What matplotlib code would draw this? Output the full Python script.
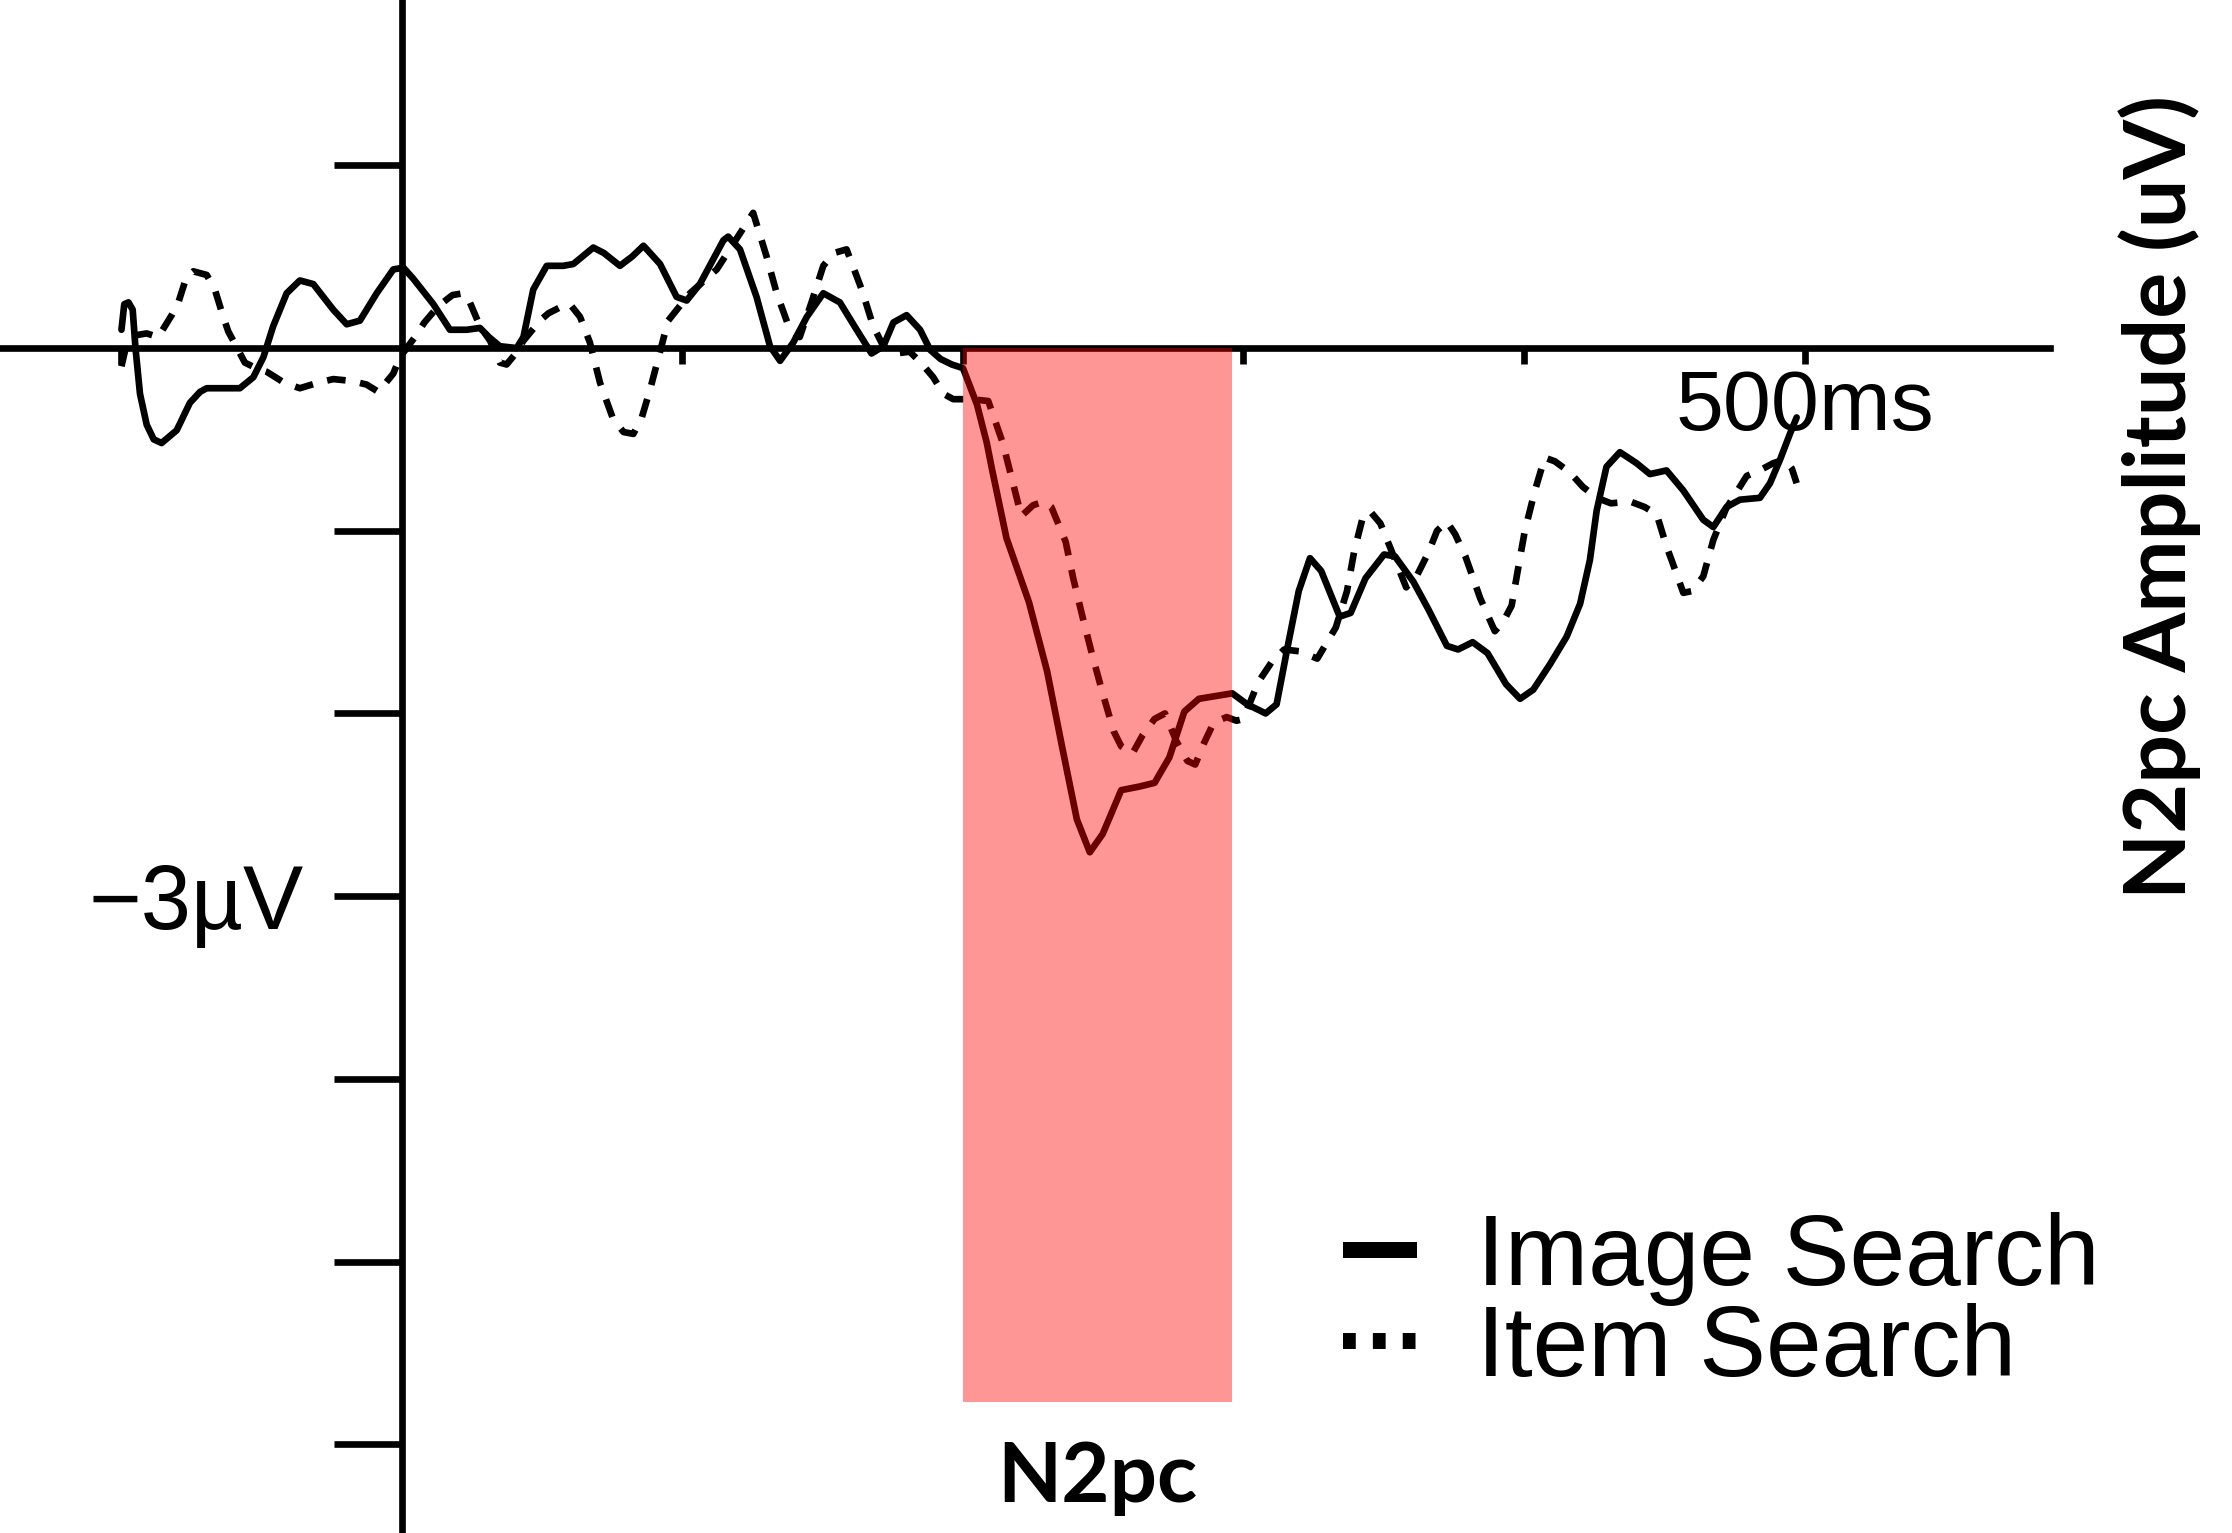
"""N2pc waveform: image search vs item search."""
import matplotlib
matplotlib.use('Agg')
import matplotlib.pyplot as plt
import numpy as np
from matplotlib.lines import Line2D

# solid trace (Image Search): time in ms, amplitude in uV
IMAGE_MS = [-100.0, -99.0, -97.5, -96.0, -95.0, -93.4, -91.0, -88.5, -85.7, -80.3, -75.6, -72.0, -69.6,
            -64.9, -57.8, -53.0, -49.4, -45.9, -41.1, -36.4, -31.6, -24.5, -19.7, -15.0, -9.0, -3.1,
            0.5, 4.0, 11.2, 17.1, 23.1, 27.8, 31.0, 34.9, 40.9, 43.3, 46.8, 51.6, 57.5, 61.1, 68.2,
            72.0, 77.7, 82.0, 86.1, 92.0, 97.9, 101.5, 106.2, 114.6, 116.3, 120.5, 126.4, 131.2,
            134.8, 139.5, 144.3, 150.2, 156.1, 162.1, 167.4, 171.6, 175.2, 179.9, 184.7, 188.3,
            192.0, 196.0, 200.0, 202.0, 205.0, 208.5, 210.3, 215.5, 223.5, 230.0, 235.3, 240.6,
            245.2, 249.8, 256.4, 263.0, 268.3, 273.6, 278.9, 284.1, 296.0, 301.3, 307.9, 311.8,
            315.8, 319.7, 323.7, 327.7, 334.3, 338.2, 343.5, 350.1, 354.0, 360.6, 365.9, 372.5,
            376.5, 381.7, 387.0, 393.6, 398.6, 403.3, 409.3, 415.2, 420.0, 423.5, 425.9, 429.4,
            434.2, 440.1, 444.9, 450.8, 456.8, 463.9, 467.5, 472.2, 477.0, 484.1, 487.7, 491.3,
            494.8, 497.2]
IMAGE_UV = [0.10, 0.24, 0.25, 0.21, 0.00, -0.25, -0.42, -0.50, -0.52, -0.45, -0.30, -0.24, -0.22,
            -0.22, -0.22, -0.16, -0.05, 0.12, 0.30, 0.37, 0.35, 0.21, 0.13, 0.15, 0.30, 0.43,
            0.44, 0.38, 0.24, 0.10, 0.10, 0.11, 0.06, 0.01, 0.00, 0.06, 0.32, 0.45, 0.45, 0.46, 0.55,
            0.52, 0.45, 0.50, 0.56, 0.46, 0.28, 0.26, 0.35, 0.59, 0.61, 0.54, 0.28, 0.01,
            -0.07, 0.03, 0.17, 0.30, 0.25, 0.10, -0.03, 0.01, 0.14, 0.18, 0.10, -0.01,
            -0.06, -0.09, -0.11, -0.19, -0.31, -0.52, -0.66, -1.04, -1.39, -1.77, -2.18, -2.58,
            -2.76, -2.66, -2.42, -2.40, -2.38, -2.24, -1.99, -1.92, -1.89, -1.95, -2.00, -1.95,
            -1.63, -1.33, -1.15, -1.22, -1.47, -1.45, -1.26, -1.13, -1.14, -1.28, -1.43, -1.63,
            -1.65, -1.61, -1.67, -1.84, -1.92, -1.87, -1.73, -1.58, -1.40, -1.16, -0.89, -0.65,
            -0.57, -0.63, -0.69, -0.67, -0.78, -0.94, -0.98, -0.87, -0.83, -0.82, -0.74, -0.61,
            -0.47, -0.38]

# dashed trace (Item Search)
ITEM_MS = [-100.0, -98.5, -95.0, -91.0, -86.9, -82.1, -79.7, -76.8, -74.4, -69.6, -66.7, -63.7, -61.9,
           -58.4, -56.0, -52.0, -48.2, -42.0, -36.4, -30.0, -24.5, -18.0, -12.6, -8.4, -3.1, -0.7,
           4.6, 8.0, 13.0, 18.0, 21.9, 24.2, 27.8, 31.4, 34.9, 37.3, 40.0, 43.3, 49.2, 52.2, 56.0,
           59.9, 63.5, 67.0, 70.6, 75.3, 79.0, 82.5, 85.5, 88.4, 94.9, 102.7, 112.2, 118.1, 125.2,
           130.0, 133.6, 138.3, 141.8, 146.0, 150.2, 154.0, 158.5, 163.9, 168.0, 171.6, 176.0,
           181.0, 185.0, 189.4, 193.0, 196.5, 203.0, 209.0, 214.2, 217.5, 220.8, 225.0, 229.0,
           231.5, 236.6, 239.3, 242.6, 245.9, 249.8, 253.8, 256.4, 260.4, 264.0, 268.3, 272.0,
           276.0, 280.0, 282.8, 286.0, 289.4, 294.0, 297.5, 300.0, 305.2, 310.0, 314.5, 320.0,
           326.3, 332.9, 336.9, 339.5, 342.8, 345.5, 348.8, 352.5, 358.0, 362.0, 365.9, 369.0,
           372.5, 375.5, 379.1, 384.4, 389.6, 392.5, 395.6, 398.2, 400.3, 403.9, 407.4, 411.0,
           416.3, 421.0, 426.0, 431.0, 437.8, 443.0, 447.3, 450.9, 452.6, 456.8, 460.0, 463.9,
           467.5, 472.0, 479.4, 484.0, 488.9, 493.0, 495.5, 497.2]
ITEM_UV = [-0.10, 0.00, 0.07, 0.08, 0.06, 0.18, 0.25, 0.39, 0.42, 0.40, 0.32, 0.17, 0.09,
           -0.01, -0.08, -0.11, -0.13, -0.19, -0.22, -0.19, -0.17, -0.18, -0.20, -0.24, -0.14, -0.05,
           0.06, 0.14, 0.23, 0.29, 0.30, 0.25, 0.12, 0.04, -0.08, -0.09, -0.04, 0.04, 0.15, 0.19, 0.22,
           0.24, 0.17, 0.03, -0.19, -0.39, -0.46, -0.47, -0.38, -0.23, 0.15, 0.30, 0.43, 0.57, 0.74,
           0.50, 0.30, 0.10, 0.06, 0.25, 0.45, 0.52, 0.54, 0.32, 0.12, 0.01, -0.03,
           -0.02, -0.08, -0.16, -0.25, -0.28, -0.28, -0.29, -0.52, -0.72, -0.92, -0.86, -0.84,
           -0.87, -1.06, -1.26, -1.47, -1.67, -1.89, -2.10, -2.18, -2.22, -2.12, -2.03, -2.00,
           -2.15, -2.26, -2.28, -2.16, -2.05, -2.02, -2.04, -2.03, -1.83, -1.72, -1.65, -1.66,
           -1.70, -1.53, -1.33, -1.11, -0.91, -0.90, -0.96, -1.10, -1.31, -1.24, -1.12, -1.00,
           -0.95, -1.02, -1.14, -1.37, -1.55, -1.50, -1.41, -1.18, -1.00, -0.78, -0.60, -0.62,
           -0.68, -0.76, -0.82, -0.85, -0.84, -0.87, -0.91, -1.09, -1.16, -1.34, -1.33, -1.25,
           -1.05, -0.88, -0.70, -0.67, -0.63, -0.61, -0.66, -0.74]

N2PC_WINDOW = [200, 296]
N2PC_DEPTH = -5.77
X_TICKS = [-100, 100, 200, 300, 400, 500]
X_TICK_LABELS = ['', '', '', '', '', '500ms']
Y_TICKS = [1, -1, -2, -3, -4, -5, -6]
Y_TICK_LABELS = ['', '', '', '\u22123\u00b5V', '', '', '']
LABELS = ['Image Search', 'Item Search']

BOLD_FONT = ['Lato', 'Open Sans', 'DejaVu Sans']


def setup_style():
    plt.rcParams['font.family'] = ['Liberation Sans', 'DejaVu Sans']
    plt.rcParams['axes.linewidth'] = 4.8


def plot_n2pc():
    fig = plt.figure(figsize=(22.32, 15.33), dpi=100)
    ax = fig.add_axes([0, 0, 1, 1])
    ax.set_xlim(-143.3, 652.4)
    ax.set_ylim(-6.486, 1.905)

    ax.spines['top'].set_visible(False)
    ax.spines['right'].set_visible(False)
    ax.spines['left'].set_position(('data', 0))
    ax.spines['bottom'].set_position(('data', 0))
    ax.spines['bottom'].set_bounds(-143.3, 587.5)

    ax.set_xticks(X_TICKS, X_TICK_LABELS)
    ax.set_yticks(Y_TICKS, Y_TICK_LABELS)
    ax.tick_params(axis='x', direction='out', length=11.5, width=4.8, pad=3, labelsize=62)
    ax.tick_params(axis='y', direction='out', length=49, width=4.8, pad=22, labelsize=65)

    ax.plot(IMAGE_MS, IMAGE_UV, color='black', linewidth=4.8, solid_joinstyle='round',
            solid_capstyle='round', zorder=2)
    ax.plot(ITEM_MS, ITEM_UV, color='black', linewidth=4.8, dashes=(2.8, 2.2),
            dash_capstyle='butt', dash_joinstyle='round', zorder=2)

    ax.fill_between(N2PC_WINDOW, N2PC_DEPTH, 0, color='red', alpha=0.41, linewidth=0, zorder=3)
    ax.annotate('N2pc', xy=(np.mean(N2PC_WINDOW), N2PC_DEPTH), xytext=(0, -72),
                textcoords='offset points', ha='center', va='baseline',
                fontsize=60, fontweight='bold', family=BOLD_FONT)

    handles = [
        Line2D([], [], color='black', linewidth=11.5, solid_capstyle='butt'),
        Line2D([], [], color='black', linewidth=11.5, dashes=(0.8, 1.07), dash_capstyle='butt'),
    ]
    ax.legend(handles, LABELS, loc='upper left', bbox_to_anchor=(1343 / 2232, 1 - 1212 / 1533),
              bbox_transform=fig.transFigure, frameon=False, fontsize=72, handlelength=0.74,
              handletextpad=0.6, labelspacing=-0.03, borderpad=0, borderaxespad=0)

    fig.text(2160 / 2232, 1 - 497 / 1533, 'N2pc Amplitude (uV)', rotation=90, ha='center',
             va='center', fontsize=62, fontweight='bold', family=BOLD_FONT)

    fig.savefig('out.png', dpi=100, facecolor='white')
    plt.close(fig)


if __name__ == '__main__':
    setup_style()
    plot_n2pc()
